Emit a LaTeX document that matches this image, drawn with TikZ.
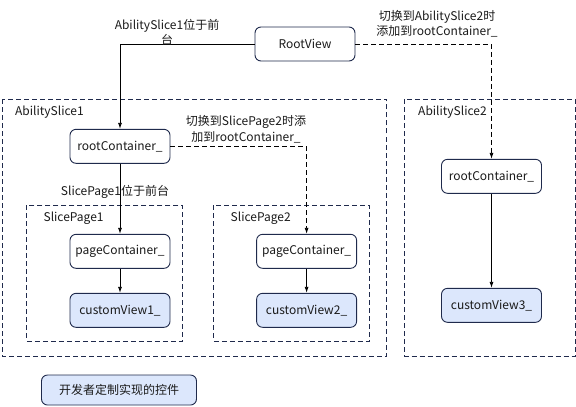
\documentclass[tikz,border=0pt]{standalone}
\usepackage{fontspec}
\setmainfont{Noto Sans CJK SC}
\usetikzlibrary{arrows.meta}
\definecolor{edgeblue}{HTML}{1F2A4C}
\definecolor{viewfill}{HTML}{DCE7FC}
\definecolor{txt}{HTML}{1A1A1A}
\newcommand{\lbl}{\fontsize{12bp}{15.5bp}\selectfont}

\begin{document}
\begin{tikzpicture}[x=1bp,y=-1bp,
  every node/.style={font=\lbl,text=txt},
  box/.style={draw=edgeblue,line width=0.9bp,rounded corners=6bp,fill=white,
    minimum width=100bp,minimum height=34bp,inner sep=0pt},
  custom/.style={box,fill=viewfill},
  frame/.style={draw=edgeblue,line width=0.9bp,dash pattern=on 5bp off 3bp},
  title/.style={anchor=west,inner sep=0pt},
  note/.style={align=center,inner sep=0pt},
  link/.style={draw=black,line width=0.8bp,-{Latex[length=6bp,width=4bp]}},
  dlink/.style={link,dash pattern=on 5bp off 3bp}]
    \useasboundingbox (0,0) rectangle (576,406);
    % frames
    \draw[frame] (2,99) rectangle (386.5,356);
    \draw[frame] (404.5,99) rectangle (575,356);
    \draw[frame] (26.5,205.3) rectangle (182.7,341);
    \draw[frame] (213.6,205.3) rectangle (369.5,341);
    \node[title] (as1) at (15,112) {AbilitySlice1};
    \node[title] (as2) at (418,112) {AbilitySlice2};
    \node[title] (sp1) at (43.4,218.3) {SlicePage1};
    \node[title] (sp2) at (230.5,218.3) {SlicePage2};

    % views
    \node[box] (root) at (305,44) {RootView};
    \node[box] (rc1) at (120,146.3) {rootContainer\_};
    \node[box] (pc1) at (120,251.3) {pageContainer\_};
    \node[custom] (cv1) at (120,310.3) {customView1\_};
    \node[box] (pc2) at (306.6,251.3) {pageContainer\_};
    \node[custom] (cv2) at (306.6,310.3) {customView2\_};
    \node[box] (rc3) at (491.5,176.3) {rootContainer\_};
    \node[custom] (cv3) at (491.5,305.3) {customView3\_};

    % legend
    \node[custom,minimum width=155bp,minimum height=30bp] (legend) at (119,390)
    {开发者定制实现的控件};

    % links
    \draw[link] (root.west) -| (rc1.north);
    \draw[dlink] (root.east) -| (rc3.north);
    \draw[link] (rc1) -- (pc1);
    \draw[dlink] (rc1.east) -| (pc2.north);
    \draw[link] (pc1) -- (cv1);
    \draw[link] (pc2) -- (cv2);
    \draw[link] (rc3) -- (cv3);

    % notes
    \node[note] (n1) at (167,32.5) {AbilitySlice1位于前\\台};
    \node[note] (n2) at (437,23.7) {切换到AbilitySlice2时\\添加到rootContainer\_};
    \node[note] (n3) at (246,129.5) {切换到SlicePage2时添\\加到rootContainer\_};
    \node[note] (n4) at (115,192.3) {SlicePage1位于前台};
\end{tikzpicture}
\end{document}
